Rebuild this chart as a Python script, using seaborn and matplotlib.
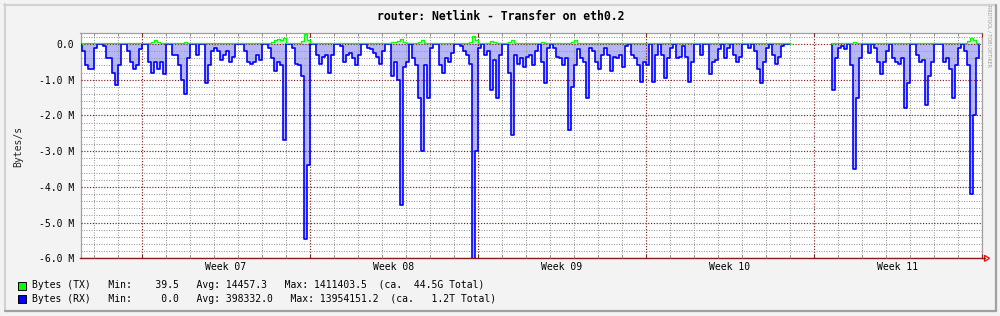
import numpy as np
import pandas as pd
import matplotlib
matplotlib.use("Agg")
import matplotlib.pyplot as plt
import matplotlib.transforms as mtrans
import seaborn as sns
from matplotlib.lines import Line2D
from matplotlib.patches import Rectangle, Polygon

nan = float("nan")

# ---------------- data (MB/s, one value per 3 hours) ----------------
title = "router: Netlink - Transfer on eth0.2"
y_label = "Bytes/s"
week_labels = ["Week 07", "Week 08", "Week 09", "Week 10", "Week 11"]
y_tick_values = [0, -1, -2, -3, -4, -5, -6]
y_tick_labels = ["0.0", "-1.0 M", "-2.0 M", "-3.0 M", "-4.0 M", "-5.0 M", "-6.0 M"]

# received bytes (drawn downward), magnitude in MB/s
rx_mb = [
    0.2, 0.6, 0.7, 0.7, 0.1, 0, 0, 0.05, 0.4, 0.4,
    0.8, 1.15, 0.6, 0, 0, 0.2, 0.5, 0.7, 0.6, 0.15,
    0, 0, 0.5, 0.8, 0.5, 0.7, 0.5, 0.85, 0, 0,
    0.3, 0.3, 0.6, 1.0, 1.4, 0.4, 0, 0, 0.3, 0,
    0, 1.1, 0.6, 0.2, 0.1, 0.2, 0.45, 0.3, 0.2, 0.5,
    0.35, 0, 0, 0, 0.2, 0.5, 0.55, 0.5, 0.3, 0.45,
    0, 0, 0.1, 0.4, 0.75, 0.5, 0.6, 2.7, 0, 0,
    0.1, 0.55, 0.6, 0.9, 5.45, 3.4, 0, 0, 0.3, 0.55,
    0.35, 0.3, 0.8, 0.3, 0, 0, 0.05, 0.5, 0.3, 0.25,
    0.4, 0.6, 0.3, 0, 0, 0.1, 0.15, 0.25, 0.35, 0.55,
    0.2, 0, 0, 0.9, 0.5, 1.0, 4.5, 0.65, 0.5, 0,
    0.4, 0.6, 1.5, 3.0, 0.6, 1.5, 0.1, 0, 0, 0.6,
    0.8, 0.4, 0.5, 0.25, 0, 0, 0.05, 0.2, 0.3, 0.55,
    6.5, 3.0, 0.1, 0, 0.3, 0.2, 1.3, 0.45, 1.5, 0.3,
    0, 0, 0.8, 2.55, 0.3, 0.55, 0.4, 0.65, 0.35, 0.3,
    0.6, 0.2, 0, 0.5, 1.1, 0.1, 0, 0.1, 0.35, 0.4,
    0.6, 0.4, 2.4, 1.2, 0.6, 0.15, 0.4, 0.5, 1.5, 0.1,
    0.2, 0.5, 0.7, 0.3, 0.1, 0.3, 0.75, 0.35, 0.4, 0.3,
    0.65, 0.05, 0, 0.3, 0.4, 0.6, 1.05, 0.5, 0.6, 0,
    1.05, 0.3, 0, 0.3, 0.95, 0.4, 0.1, 0, 0.4, 0.35,
    0.05, 0.35, 1.05, 0.5, 0, 0, 0.3, 0, 0, 0.85,
    0.5, 0.45, 0.15, 0, 0.4, 0.1, 0, 0.3, 0.5, 0.35,
    0, 0, 0.1, 0, 0.2, 0.7, 1.1, 0.5, 0.1, 0,
    0.3, 0.55, 0.35, 0.05, 0, 0, nan, nan, nan, nan,
    nan, nan, nan, nan, nan, nan, nan, nan, nan, nan,
    1.3, 0.4, 0.1, 0.05, 0.15, 0, 0.6, 3.5, 1.5, 0.4,
    0, 0, 0.25, 0, 0.1, 0.5, 0.85, 0.5, 0.2, 0,
    0.4, 0.5, 0.55, 0.4, 1.8, 1.1, 0, 0, 0.3, 0.5,
    0.45, 1.7, 0.9, 0.5, 0, 0, 0, 0.5, 0.4, 0.7,
    1.5, 0.6, 0.1, 0, 0.2, 0.6, 4.2, 2.0, 0.4, nan,
]

# transmitted bytes (drawn upward), MB/s
tx_mb = [
    0.015, 0.015, 0.015, 0.015, 0.015, 0.015, 0.015, 0.015, 0.015, 0.015,
    0.015, 0.015, 0.015, 0.015, 0.015, 0.015, 0.015, 0.015, 0.015, 0.015,
    0.015, 0.015, 0.03, 0.05, 0.10, 0.06, 0.03, 0.015, 0.015, 0.015,
    0.015, 0.015, 0.015, 0.04, 0.06, 0.03, 0.015, 0.015, 0.015, 0.015,
    0.015, 0.015, 0.015, 0.015, 0.015, 0.015, 0.015, 0.015, 0.015, 0.015,
    0.015, 0.015, 0.015, 0.015, 0.015, 0.015, 0.015, 0.015, 0.015, 0.015,
    0.015, 0.015, 0.03, 0.05, 0.10, 0.15, 0.10, 0.18, 0.03, 0.015,
    0.015, 0.015, 0.015, 0.08, 0.28, 0.10, 0.015, 0.015, 0.015, 0.015,
    0.015, 0.015, 0.015, 0.015, 0.015, 0.015, 0.015, 0.015, 0.015, 0.015,
    0.015, 0.015, 0.015, 0.015, 0.015, 0.015, 0.015, 0.015, 0.015, 0.015,
    0.015, 0.015, 0.015, 0.05, 0.06, 0.08, 0.14, 0.05, 0.015, 0.015,
    0.015, 0.015, 0.05, 0.12, 0.04, 0.015, 0.015, 0.015, 0.015, 0.015,
    0.015, 0.015, 0.015, 0.015, 0.015, 0.015, 0.015, 0.015, 0.015, 0.06,
    0.22, 0.12, 0.015, 0.015, 0.015, 0.015, 0.08, 0.05, 0.015, 0.015,
    0.015, 0.015, 0.06, 0.12, 0.04, 0.015, 0.015, 0.015, 0.015, 0.015,
    0.015, 0.015, 0.015, 0.05, 0.03, 0.015, 0.015, 0.015, 0.015, 0.015,
    0.015, 0.015, 0.04, 0.06, 0.12, 0.03, 0.015, 0.015, 0.015, 0.015,
    0.015, 0.015, 0.015, 0.015, 0.015, 0.015, 0.015, 0.015, 0.015, 0.015,
    0.015, 0.015, 0.015, 0.015, 0.015, 0.015, 0.015, 0.015, 0.015, 0.015,
    0.015, 0.015, 0.015, 0.015, 0.015, 0.015, 0.015, 0.015, 0.015, 0.015,
    0.015, 0.015, 0.015, 0.015, 0.015, 0.015, 0.015, 0.015, 0.015, 0.015,
    0.015, 0.015, 0.015, 0.015, 0.015, 0.015, 0.015, 0.015, 0.015, 0.015,
    0.015, 0.015, 0.015, 0.015, 0.015, 0.015, 0.015, 0.015, 0.015, 0.015,
    0.015, 0.015, 0.015, 0.015, 0.015, 0.015, nan, nan, nan, nan,
    nan, nan, nan, nan, nan, nan, nan, nan, nan, nan,
    0.015, 0.015, 0.015, 0.015, 0.015, 0.015, 0.015, 0.06, 0.04, 0.015,
    0.015, 0.015, 0.015, 0.015, 0.015, 0.015, 0.015, 0.015, 0.015, 0.015,
    0.015, 0.015, 0.015, 0.015, 0.015, 0.015, 0.015, 0.015, 0.015, 0.015,
    0.015, 0.015, 0.015, 0.04, 0.015, 0.015, 0.015, 0.015, 0.015, 0.015,
    0.015, 0.015, 0.015, 0.015, 0.015, 0.08, 0.16, 0.10, 0.015, nan,
]

legend_lines = [
    "Bytes (TX)   Min:    39.5   Avg: 14457.3   Max: 1411403.5  (ca.  44.5G Total)",
    "Bytes (RX)   Min:     0.0   Avg: 398332.0   Max: 13954151.2  (ca.   1.2T Total)",
]
legend_colors = ["#00FF00", "#0000FF"]
watermark = "RRDTOOL / TOBI OETIKER"

# ---------------- time axis (days from start of Week 07) ----------------
start_day = -2.5
step = 0.125
n = len(rx_mb)
days = start_day + step * np.arange(n)


def segments(values, sign):
    v = np.asarray(values, float) * sign
    ok = ~np.isnan(v)
    frames = []
    seg = 0
    i = 0
    while i < len(v):
        if ok[i]:
            j = i
            while j < len(v) and ok[j]:
                j += 1
            x_end = start_day + step * j
            xs = np.concatenate([[days[i]], days[i:j], [x_end, x_end]])
            ys = np.concatenate([[0.0], v[i:j], [v[j - 1], 0.0]])
            frames.append(pd.DataFrame({"day": xs, "val": ys, "seg": seg}))
            seg += 1
            i = j
        else:
            i += 1
    return pd.concat(frames, ignore_index=True)


rx_df = segments(rx_mb, -1.0)
tx_df = segments(tx_mb, 1.0)

# ---------------- figure ----------------
sns.set_theme(style="white")
plt.rcParams["font.family"] = ["DejaVu Sans Mono", "DejaVu Sans"]

W, H = 1000, 316
fig = plt.figure(figsize=(10, 3.16), dpi=100, facecolor="#F3F3F3")


def fx(px):
    return px / W


def fy(py):
    return 1 - py / H


ax_left, ax_right, ax_top, ax_bottom = 80.5, 981.7, 33.3, 258.3
ax = fig.add_axes([fx(ax_left), fy(ax_bottom), fx(ax_right - ax_left), (ax_bottom - ax_top) / H])
ax.set_facecolor("white")

# fills
for s, g in rx_df.groupby("seg"):
    ax.fill_between(g["day"], g["val"], 0, step="post", color="#B7B7F7", lw=0, zorder=1.2)
for s, g in tx_df.groupby("seg"):
    ax.fill_between(g["day"], g["val"], 0, step="post", color="#B7F7B7", lw=0, zorder=1.1)

# lines
sns.lineplot(data=rx_df, x="day", y="val", units="seg", estimator=None, sort=False,
             drawstyle="steps-post", color="#0000FF", lw=1.2, ax=ax, legend=False, zorder=3)
sns.lineplot(data=tx_df, x="day", y="val", units="seg", estimator=None, sort=False,
             drawstyle="steps-post", color="#00FF00", lw=0.9, ax=ax, legend=False, zorder=3.1)

ax.set_xlim(start_day - 0.05, 35)
ax.set_ylim(-6.0, 0.3)

ax.set_xticks(np.arange(0, 36, 7))
ax.set_xticks(np.arange(-2, 36, 1), minor=True)
ax.set_xticklabels([])
ax.set_yticks(y_tick_values)
ax.set_yticklabels(y_tick_labels)
ax.set_yticks(np.arange(-6.0, 0.31, 0.2), minor=True)

dots = (0, (1, 1.4))
ax.grid(which="minor", color="#9A9A9A", linestyle=dots, linewidth=0.75)
ax.grid(which="major", color="#821E1E", linestyle=dots, linewidth=0.85)
ax.set_axisbelow(False)

ax.tick_params(axis="y", which="major", length=2.4, width=0.8, color="#821E1E",
               labelsize=7, pad=2.4, labelcolor="black", direction="out")
ax.tick_params(axis="y", which="minor", length=1.5, width=0.7, color="#909090", direction="out")
ax.tick_params(axis="x", which="both", bottom=True, top=True, direction="in",
               length=2.2, width=0.7, color="#909090")
ax.tick_params(axis="x", which="major", length=3.0, color="#821E1E")

for side in ["left", "top", "right"]:
    ax.spines[side].set_color("#A0A0A0")
    ax.spines[side].set_linewidth(0.9)
ax.spines["bottom"].set_color("#8B1A1A")
ax.spines["bottom"].set_linewidth(1.0)
ax.set_xlabel("")
ax.set_ylabel("")

# week labels centred in each week
blend = mtrans.blended_transform_factory(ax.transData, fig.transFigure)
for k, lab in enumerate(week_labels):
    ax.text(3.5 + 7 * k, fy(267.3), lab, transform=blend,
            ha="center", va="center", fontsize=7, color="black")

# arrow at the end of the x axis
fig.add_artist(Line2D([fx(981.7), fx(984.5)], [fy(ax_bottom), fy(ax_bottom)],
                      color="#8B1A1A", lw=1.0, transform=fig.transFigure))
fig.add_artist(Polygon([[fx(984.5), fy(255.3)], [fx(989.5), fy(258.3)], [fx(984.5), fy(261.3)]],
                       closed=True, fill=False, edgecolor="#FF0000", lw=0.9, transform=fig.transFigure))

# title, axis label, watermark
fig.text(fx(500.5), fy(16.5), title, ha="center", va="center", fontsize=8.3,
         fontweight="bold", color="black")
fig.text(fx(18), fy(146), y_label, ha="center", va="center", rotation=90, fontsize=7)
fig.text(fx(989), fy(36), watermark, ha="center", va="center", rotation=270,
         fontsize=3.9, color="#9A9A9A", fontstretch="condensed",
         family=["Liberation Sans Narrow", "DejaVu Sans"])

# legend
for k, (line, col) in enumerate(zip(legend_lines, legend_colors)):
    yc = 285.5 + 13.3 * k
    fig.add_artist(Rectangle((fx(17.5), fy(yc + 4)), fx(8), 8 / H, facecolor=col,
                             edgecolor="black", lw=0.7, transform=fig.transFigure))
    fig.text(fx(31.7), fy(yc), line, ha="left", va="center", fontsize=7.05, color="black")

# bevelled frame
fig.add_artist(Line2D([fx(4), fx(995)], [fy(4.5), fy(4.5)], color="#D2D2D2", lw=1.6, transform=fig.transFigure))
fig.add_artist(Line2D([fx(4.5), fx(4.5)], [fy(4), fy(310)], color="#D2D2D2", lw=1.6, transform=fig.transFigure))
fig.add_artist(Line2D([fx(5), fx(996)], [fy(310.5), fy(310.5)], color="#A0A0A0", lw=1.6, transform=fig.transFigure))
fig.add_artist(Line2D([fx(995.5), fx(995.5)], [fy(5), fy(311)], color="#A0A0A0", lw=1.6, transform=fig.transFigure))

fig.savefig("out.png", dpi=100, facecolor=fig.get_facecolor())
